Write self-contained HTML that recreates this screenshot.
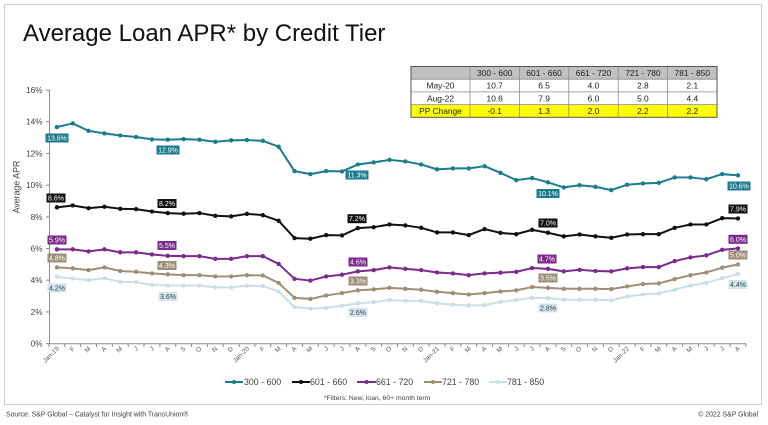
<!DOCTYPE html>
<html><head><meta charset="utf-8"><style>
html,body{margin:0;padding:0;background:#fff;}
svg{display:block;font-family:"Liberation Sans",Arial,sans-serif;}
</style></head><body>
<svg width="768" height="425" viewBox="0 0 768 425" xmlns="http://www.w3.org/2000/svg">
<defs>
<marker id="m1" viewBox="-1 -1 2 2" markerWidth="2.2" markerHeight="2.2" markerUnits="strokeWidth"><circle r="1" fill="#1b7b8f"/></marker>
<marker id="m2" viewBox="-1 -1 2 2" markerWidth="2.2" markerHeight="2.2" markerUnits="strokeWidth"><circle r="1" fill="#111"/></marker>
<marker id="m3" viewBox="-1 -1 2 2" markerWidth="2.2" markerHeight="2.2" markerUnits="strokeWidth"><circle r="1" fill="#7b2a8e"/></marker>
<marker id="m4" viewBox="-1 -1 2 2" markerWidth="2.2" markerHeight="2.2" markerUnits="strokeWidth"><circle r="1" fill="#9e8e76"/></marker>
<marker id="m5" viewBox="-1 -1 2 2" markerWidth="2.2" markerHeight="2.2" markerUnits="strokeWidth"><circle r="1" fill="#c9dfe8"/></marker>
</defs>
<rect x="0" y="0" width="768" height="425" fill="#fff"/>
<rect x="4.5" y="4.5" width="757" height="400" fill="none" stroke="#cfcfcf" stroke-width="1"/>
<text x="23" y="41" font-size="24" fill="#111">Average Loan APR* by Credit Tier</text>

<!-- table -->
<g font-size="8.4" fill="#222" text-anchor="middle">
<rect x="411" y="66.5" width="306" height="12.7" fill="#c0c0c0"/>
<rect x="411" y="104.6" width="306" height="12.7" fill="#ffff00"/>
<g stroke="#8a8a8a" stroke-width="0.8">
<line x1="411" y1="79.2" x2="717" y2="79.2"/>
<line x1="411" y1="91.9" x2="717" y2="91.9"/>
<line x1="411" y1="104.6" x2="717" y2="104.6"/>
<line x1="470" y1="66.5" x2="470" y2="117.3"/>
<line x1="519.4" y1="66.5" x2="519.4" y2="117.3"/>
<line x1="568.8" y1="66.5" x2="568.8" y2="117.3"/>
<line x1="618.2" y1="66.5" x2="618.2" y2="117.3"/>
<line x1="667.6" y1="66.5" x2="667.6" y2="117.3"/>
</g>
<rect x="411" y="66.5" width="306" height="50.8" fill="none" stroke="#555" stroke-width="1"/>
<text x="494.7" y="76">300 - 600</text><text x="544.1" y="76">601 - 660</text><text x="593.5" y="76">661 - 720</text><text x="642.9" y="76">721 - 780</text><text x="692.3" y="76">781 - 850</text>
<text x="440.5" y="88.7">May-20</text><text x="494.7" y="88.7">10.7</text><text x="544.1" y="88.7">6.5</text><text x="593.5" y="88.7">4.0</text><text x="642.9" y="88.7">2.8</text><text x="692.3" y="88.7">2.1</text>
<text x="440.5" y="101.4">Aug-22</text><text x="494.7" y="101.4">10.6</text><text x="544.1" y="101.4">7.9</text><text x="593.5" y="101.4">6.0</text><text x="642.9" y="101.4">5.0</text><text x="692.3" y="101.4">4.4</text>
<text x="440.5" y="114.1">PP Change</text><text x="494.7" y="114.1">-0.1</text><text x="544.1" y="114.1">1.3</text><text x="593.5" y="114.1">2.0</text><text x="642.9" y="114.1">2.2</text><text x="692.3" y="114.1">2.2</text>
</g>

<!-- axes -->
<line x1="49.5" y1="90" x2="49.5" y2="344" stroke="#8c8c8c" stroke-width="1"/>
<line x1="49" y1="343.8" x2="746" y2="343.8" stroke="#8c8c8c" stroke-width="1"/>
<line x1="48.5" y1="345.5" x2="747" y2="345.5" stroke="#8c8c8c" stroke-width="3" stroke-dasharray="1 14.84"/>
<g stroke="#8c8c8c" stroke-width="1">
<line x1="46" y1="343.6" x2="49.5" y2="343.6"/><line x1="46" y1="311.9" x2="49.5" y2="311.9"/><line x1="46" y1="280.2" x2="49.5" y2="280.2"/><line x1="46" y1="248.6" x2="49.5" y2="248.6"/><line x1="46" y1="216.9" x2="49.5" y2="216.9"/><line x1="46" y1="185.2" x2="49.5" y2="185.2"/><line x1="46" y1="153.5" x2="49.5" y2="153.5"/><line x1="46" y1="121.8" x2="49.5" y2="121.8"/><line x1="46" y1="90.2" x2="49.5" y2="90.2"/>
</g>
<g font-size="8.2" fill="#404040" text-anchor="end">
<text x="42.5" y="346.5">0%</text><text x="42.5" y="314.8">2%</text><text x="42.5" y="283.1">4%</text><text x="42.5" y="251.5">6%</text><text x="42.5" y="219.8">8%</text><text x="42.5" y="188.1">10%</text><text x="42.5" y="156.4">12%</text><text x="42.5" y="124.7">14%</text><text x="42.5" y="93.1">16%</text>
</g>
<text transform="translate(19.5,187) rotate(-90)" font-size="8.8" fill="#404040" text-anchor="middle">Average APR</text>

<!-- x labels -->
<g font-size="6.5" fill="#595959" text-anchor="end">
<text transform="translate(59.4,349) rotate(-45)">Jan-19</text>
<text transform="translate(75.2,349) rotate(-45)">F</text>
<text transform="translate(91.1,349) rotate(-45)">M</text>
<text transform="translate(106.9,349) rotate(-45)">A</text>
<text transform="translate(122.8,349) rotate(-45)">M</text>
<text transform="translate(138.6,349) rotate(-45)">J</text>
<text transform="translate(154.4,349) rotate(-45)">J</text>
<text transform="translate(170.3,349) rotate(-45)">A</text>
<text transform="translate(186.1,349) rotate(-45)">S</text>
<text transform="translate(202,349) rotate(-45)">O</text>
<text transform="translate(217.8,349) rotate(-45)">N</text>
<text transform="translate(233.6,349) rotate(-45)">D</text>
<text transform="translate(249.5,349) rotate(-45)">Jan-20</text>
<text transform="translate(265.3,349) rotate(-45)">F</text>
<text transform="translate(281.2,349) rotate(-45)">M</text>
<text transform="translate(297,349) rotate(-45)">A</text>
<text transform="translate(312.8,349) rotate(-45)">M</text>
<text transform="translate(328.7,349) rotate(-45)">J</text>
<text transform="translate(344.5,349) rotate(-45)">J</text>
<text transform="translate(360.4,349) rotate(-45)">A</text>
<text transform="translate(376.2,349) rotate(-45)">S</text>
<text transform="translate(392,349) rotate(-45)">O</text>
<text transform="translate(407.9,349) rotate(-45)">N</text>
<text transform="translate(423.7,349) rotate(-45)">D</text>
<text transform="translate(439.6,349) rotate(-45)">Jan-21</text>
<text transform="translate(455.4,349) rotate(-45)">F</text>
<text transform="translate(471.2,349) rotate(-45)">M</text>
<text transform="translate(487.1,349) rotate(-45)">A</text>
<text transform="translate(502.9,349) rotate(-45)">M</text>
<text transform="translate(518.8,349) rotate(-45)">J</text>
<text transform="translate(534.6,349) rotate(-45)">J</text>
<text transform="translate(550.4,349) rotate(-45)">A</text>
<text transform="translate(566.3,349) rotate(-45)">S</text>
<text transform="translate(582.1,349) rotate(-45)">O</text>
<text transform="translate(598,349) rotate(-45)">N</text>
<text transform="translate(613.8,349) rotate(-45)">D</text>
<text transform="translate(629.6,349) rotate(-45)">Jan-22</text>
<text transform="translate(645.5,349) rotate(-45)">F</text>
<text transform="translate(661.3,349) rotate(-45)">M</text>
<text transform="translate(677.2,349) rotate(-45)">A</text>
<text transform="translate(693,349) rotate(-45)">M</text>
<text transform="translate(708.8,349) rotate(-45)">J</text>
<text transform="translate(724.7,349) rotate(-45)">J</text>
<text transform="translate(740.5,349) rotate(-45)">A</text>
</g>

<!-- series -->
<g transform="translate(56.9,343.6) scale(15.84,-15.84)" fill="none" stroke-width="0.126" stroke-linejoin="round">
<polyline stroke="#c9dfe8" marker-start="url(#m5)" marker-mid="url(#m5)" marker-end="url(#m5)" points="0,4.22 1,4.11 2,4 3,4.13 4,3.9 5,3.88 6,3.71 7,3.67 8,3.67 9,3.67 10,3.55 11,3.55 12,3.65 13,3.64 14,3.29 15,2.3 16,2.21 17,2.26 18,2.39 19,2.54 20,2.62 21,2.75 22,2.7 23,2.7 24,2.54 25,2.45 26,2.41 27,2.43 28,2.64 29,2.75 30,2.89 31,2.87 32,2.77 33,2.77 34,2.77 35,2.73 36,2.98 37,3.1 38,3.17 39,3.4 40,3.67 41,3.84 42,4.13 43,4.39"/>
<polyline stroke="#9e8e76" marker-start="url(#m4)" marker-mid="url(#m4)" marker-end="url(#m4)" points="0,4.81 1,4.75 2,4.64 3,4.81 4,4.58 5,4.53 6,4.43 7,4.37 8,4.32 9,4.32 10,4.24 11,4.24 12,4.32 13,4.3 14,3.83 15,2.89 16,2.82 17,3.04 18,3.19 19,3.36 20,3.42 21,3.52 22,3.46 23,3.4 24,3.27 25,3.19 26,3.1 27,3.19 28,3.29 29,3.36 30,3.57 31,3.52 32,3.46 33,3.46 34,3.46 35,3.44 36,3.61 37,3.76 38,3.8 39,4.07 40,4.32 41,4.49 42,4.79 43,5"/>
<polyline stroke="#7b2a8e" marker-start="url(#m3)" marker-mid="url(#m3)" marker-end="url(#m3)" points="0,5.95 1,5.95 2,5.82 3,5.95 4,5.76 5,5.76 6,5.63 7,5.54 8,5.52 9,5.52 10,5.35 11,5.35 12,5.52 13,5.52 14,5.03 15,4.09 16,3.98 17,4.24 18,4.35 19,4.56 20,4.64 21,4.81 22,4.72 23,4.64 24,4.49 25,4.43 26,4.32 27,4.43 28,4.48 29,4.53 30,4.77 31,4.72 32,4.56 33,4.66 34,4.58 35,4.56 36,4.75 37,4.83 38,4.83 39,5.21 40,5.44 41,5.57 42,5.92 43,6.01"/>
<polyline stroke="#111" marker-start="url(#m2)" marker-mid="url(#m2)" marker-end="url(#m2)" points="0,8.6 1,8.72 2,8.55 3,8.64 4,8.51 5,8.49 6,8.34 7,8.24 8,8.2 9,8.24 10,8.07 11,8.03 12,8.19 13,8.11 14,7.75 15,6.66 16,6.62 17,6.85 18,6.83 19,7.29 20,7.35 21,7.52 22,7.46 23,7.31 24,7.02 25,7.02 26,6.85 27,7.23 28,6.99 29,6.91 30,7.18 31,7 32,6.77 33,6.89 34,6.77 35,6.68 36,6.89 37,6.91 38,6.91 39,7.31 40,7.52 41,7.52 42,7.92 43,7.9"/>
<polyline stroke="#1b7b8f" marker-start="url(#m1)" marker-mid="url(#m1)" marker-end="url(#m1)" points="0,13.67 1,13.9 2,13.43 3,13.27 4,13.14 5,13.04 6,12.89 7,12.87 8,12.91 9,12.87 10,12.74 11,12.83 12,12.85 13,12.8 14,12.43 15,10.89 16,10.7 17,10.89 18,10.87 19,11.31 20,11.44 21,11.6 22,11.5 23,11.31 24,11 25,11.06 26,11.06 27,11.2 28,10.78 29,10.32 30,10.45 31,10.18 32,9.86 33,10 34,9.9 35,9.69 36,10.03 37,10.11 38,10.15 39,10.49 40,10.49 41,10.38 42,10.7 43,10.62"/>
</g>

<!-- data labels -->
<g font-size="7" text-anchor="middle">
<g fill="#1b7b8f">
<rect x="45.5" y="133.5" width="23" height="9"/><rect x="156.5" y="145.5" width="23" height="9"/><rect x="345.5" y="170.5" width="23" height="9"/><rect x="536.5" y="189" width="23" height="9"/><rect x="727.5" y="181.5" width="23" height="9"/>
</g>
<g fill="#fff">
<text x="57" y="140.5">13.6%</text><text x="168" y="152.5">12.9%</text><text x="357" y="177.5">11.3%</text><text x="548" y="196">10.1%</text><text x="739" y="188.5">10.6%</text>
</g>
<g fill="#111">
<rect x="46.5" y="193.5" width="19" height="9"/><rect x="157.5" y="199" width="19" height="9"/><rect x="347.5" y="214.2" width="19" height="9"/><rect x="538.5" y="218.5" width="19" height="9"/><rect x="728.5" y="204.5" width="19" height="9"/>
</g>
<g fill="#fff">
<text x="56" y="200.5">8.6%</text><text x="167" y="206">8.2%</text><text x="357" y="221.2">7.2%</text><text x="548" y="225.5">7.0%</text><text x="738" y="211.5">7.9%</text>
</g>
<g fill="#7b2a8e">
<rect x="47.5" y="235.5" width="19" height="9"/><rect x="157.5" y="241" width="19" height="9"/><rect x="348.5" y="257.5" width="19" height="9"/><rect x="537.5" y="254.5" width="19" height="9"/><rect x="728.5" y="234.8" width="19" height="9"/>
</g>
<g fill="#fff">
<text x="57" y="242.5">5.9%</text><text x="167" y="248">5.5%</text><text x="358" y="264.5">4.6%</text><text x="547" y="261.5">4.7%</text><text x="738" y="241.8">6.0%</text>
</g>
<g fill="#9e8e76">
<rect x="47.5" y="253.5" width="19" height="9"/><rect x="157.5" y="261" width="19" height="9"/><rect x="348.5" y="276.5" width="19" height="9"/><rect x="538.5" y="273.5" width="19" height="9"/><rect x="728.5" y="250.5" width="19" height="9"/>
</g>
<g fill="#fff">
<text x="57" y="260.5">4.8%</text><text x="167" y="268">4.3%</text><text x="358" y="283.5">3.3%</text><text x="548" y="280.5">3.5%</text><text x="738" y="257.5">5.0%</text>
</g>
<g fill="#d3e5ec">
<rect x="47.5" y="283.5" width="19" height="9"/><rect x="158.5" y="292" width="19" height="9"/><rect x="348.5" y="308" width="19" height="9"/><rect x="538.5" y="303.5" width="19" height="9"/><rect x="728.5" y="280" width="19" height="9"/>
</g>
<g fill="#34444e">
<text x="57" y="290.5">4.2%</text><text x="168" y="299">3.6%</text><text x="358" y="315">2.6%</text><text x="548" y="310.5">2.8%</text><text x="738" y="287">4.4%</text>
</g>
</g>

<!-- legend -->
<g stroke-width="2">
<line x1="225" y1="382" x2="243" y2="382" stroke="#1b7b8f"/><circle cx="234" cy="382" r="2" fill="#1b7b8f"/>
<line x1="292" y1="382" x2="310" y2="382" stroke="#111"/><circle cx="301" cy="382" r="2" fill="#111"/>
<line x1="357" y1="382" x2="376" y2="382" stroke="#7b2a8e"/><circle cx="366.5" cy="382" r="2" fill="#7b2a8e"/>
<line x1="424" y1="382" x2="442" y2="382" stroke="#9e8e76"/><circle cx="433" cy="382" r="2" fill="#9e8e76"/>
<line x1="489" y1="382" x2="507" y2="382" stroke="#c9dfe8"/><circle cx="498" cy="382" r="2" fill="#c9dfe8"/>
</g>
<g font-size="8.8" fill="#404040">
<text x="244" y="385.2">300 - 600</text><text x="310" y="385.2">601 - 660</text><text x="376" y="385.2">661 - 720</text><text x="442" y="385.2">721 - 780</text><text x="507" y="385.2">781 - 850</text>
</g>
<text x="324" y="400" font-size="6.8" fill="#404040">*Filters: New, loan, 60+ month term</text>
<text x="6" y="416.5" font-size="6.9" fill="#404040">Source: S&amp;P Global – Catalyst for Insight with TransUnion®</text>
<text x="758" y="416.5" font-size="6.9" fill="#404040" text-anchor="end">© 2022 S&amp;P Global</text>
</svg>
</body></html>
